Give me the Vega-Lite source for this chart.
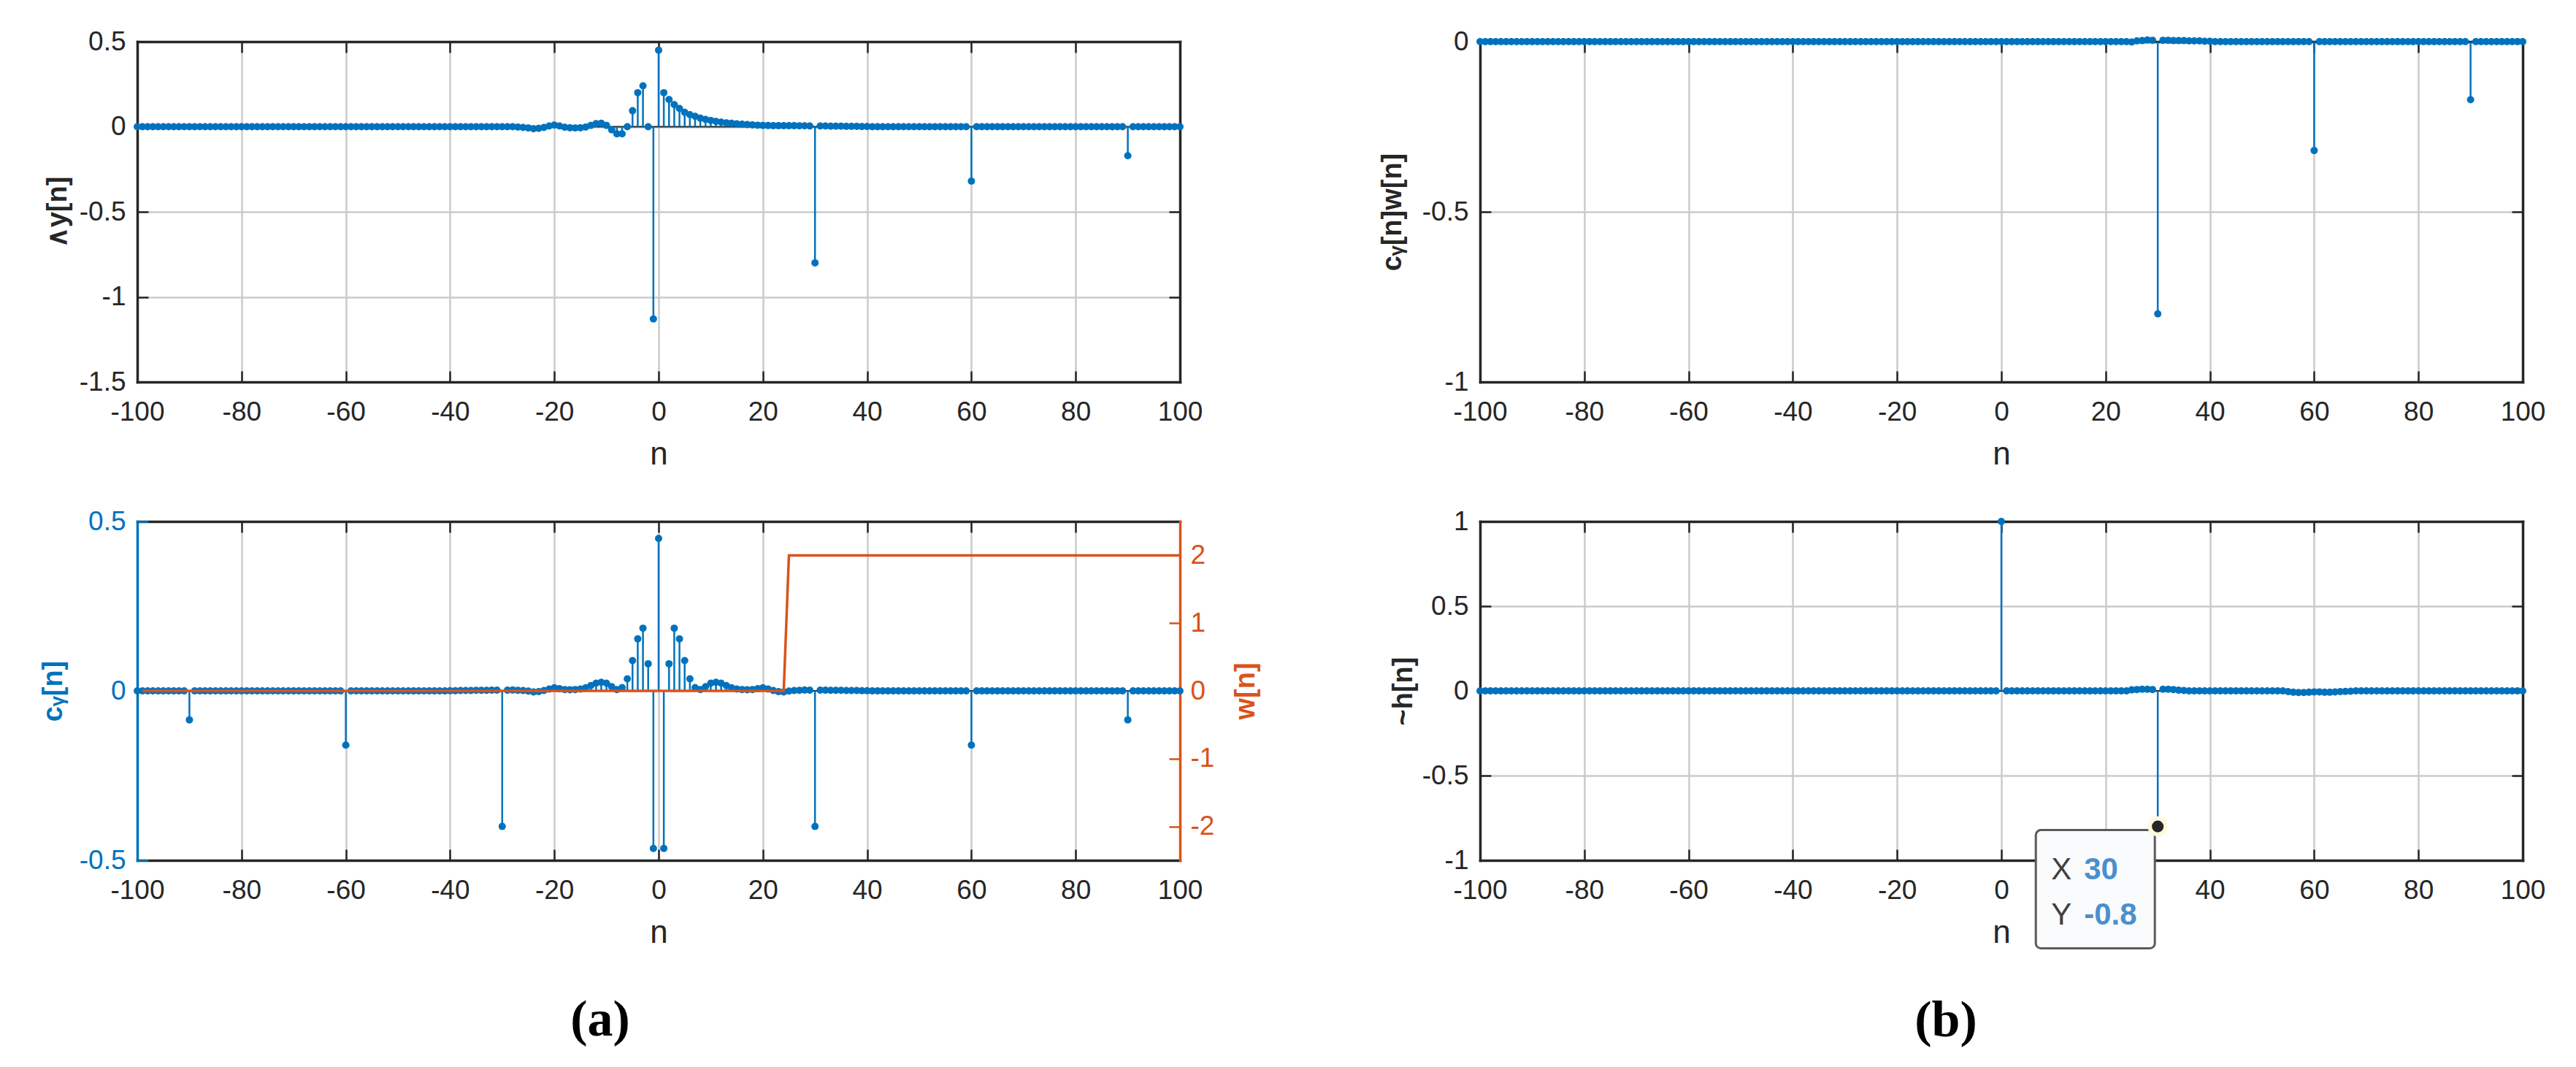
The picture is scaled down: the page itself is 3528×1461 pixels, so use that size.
{
"$schema":"https://vega.github.io/schema/vega-lite/v6.json",
"background":"white",
"padding":{"left":54,"top":38,"right":10,"bottom":10},
"config":{
 "font":"Liberation Sans",
 "view":{"stroke":null},
 "axis":{"domainColor":"#262626","domainWidth":3.5,"domainCap":"square","tickColor":"#262626","tickWidth":2.5,"tickSize":-15,"gridColor":"#cbcbcb","gridWidth":2.5,"gridOpacity":1,"labelFont":"Liberation Sans","labelFontSize":37,"labelColor":"#262626","labelFlush":false,"labelOverlap":false,"labelBound":false,"titleFont":"Liberation Sans","titleColor":"#262626","titleFontSize":38,"titleFontWeight":"bold"},
 "axisX":{"labelPadding":38,"titleFontWeight":"normal","titleFontSize":44,"titlePadding":18},
 "axisY":{"labelPadding":31}
},
"datasets":{
 "w":[{"n":-99,"w":0},{"n":24,"w":0},{"n":25,"w":2},{"n":100,"w":2}],
 "tip":[{"n":30,"v":-0.8}],
 "d":[
{"n":-100,"a":0,"c":0,"cw":0,"h":0},{"n":-99,"a":0,"c":0,"cw":0,"h":0},{"n":-98,"a":0,"c":0,"cw":0,"h":0},{"n":-97,"a":0,"c":0,"cw":0,"h":0},{"n":-96,"a":0,"c":0,"cw":0,"h":0},{"n":-95,"a":0,"c":0,"cw":0,"h":0},{"n":-94,"a":0,"c":0,"cw":0,"h":0},{"n":-93,"a":0,"c":0,"cw":0,"h":0},{"n":-92,"a":0,"c":0,"cw":0,"h":0},{"n":-91,"a":0,"c":0,"cw":0,"h":0},
{"n":-90,"a":0,"c":-0.0854,"cw":0,"h":0},
{"n":-89,"a":0,"c":0,"cw":0,"h":0},{"n":-88,"a":0,"c":0,"cw":0,"h":0},{"n":-87,"a":0,"c":0,"cw":0,"h":0},{"n":-86,"a":0,"c":0,"cw":0,"h":0},{"n":-85,"a":0,"c":0,"cw":0,"h":0},{"n":-84,"a":0,"c":0,"cw":0,"h":0},{"n":-83,"a":0,"c":0,"cw":0,"h":0},{"n":-82,"a":0,"c":0,"cw":0,"h":0},{"n":-81,"a":0,"c":0,"cw":0,"h":0},{"n":-80,"a":0,"c":0,"cw":0,"h":0},
{"n":-79,"a":0,"c":0,"cw":0,"h":0},{"n":-78,"a":0,"c":0,"cw":0,"h":0},{"n":-77,"a":0,"c":0,"cw":0,"h":0},{"n":-76,"a":0,"c":0,"cw":0,"h":0},{"n":-75,"a":0,"c":0,"cw":0,"h":0},{"n":-74,"a":0,"c":0,"cw":0,"h":0},{"n":-73,"a":0,"c":0,"cw":0,"h":0},{"n":-72,"a":0,"c":0,"cw":0,"h":0},{"n":-71,"a":0,"c":0,"cw":0,"h":0},{"n":-70,"a":0,"c":0,"cw":0,"h":0},
{"n":-69,"a":0,"c":0,"cw":0,"h":0},{"n":-68,"a":0,"c":0,"cw":0,"h":0},{"n":-67,"a":0,"c":0,"cw":0,"h":0},{"n":-66,"a":0,"c":0,"cw":0,"h":0},{"n":-65,"a":0,"c":0,"cw":0,"h":0},{"n":-64,"a":0,"c":0,"cw":0,"h":0},{"n":-63,"a":0,"c":0,"cw":0,"h":0},{"n":-62,"a":0,"c":0,"cw":0,"h":0},{"n":-61,"a":0,"c":0,"cw":0,"h":0},
{"n":-60,"a":0,"c":-0.16,"cw":0,"h":0},
{"n":-59,"a":0,"c":0,"cw":0,"h":0},{"n":-58,"a":0,"c":0,"cw":0,"h":0},{"n":-57,"a":0,"c":0,"cw":0,"h":0},{"n":-56,"a":0,"c":0,"cw":0,"h":0},{"n":-55,"a":0,"c":0,"cw":0,"h":0},{"n":-54,"a":0,"c":0,"cw":0,"h":0},{"n":-53,"a":0,"c":0,"cw":0,"h":0},{"n":-52,"a":0,"c":0,"cw":0,"h":0},{"n":-51,"a":0,"c":0,"cw":0,"h":0},{"n":-50,"a":0,"c":0,"cw":0,"h":0},
{"n":-49,"a":0,"c":0,"cw":0,"h":0},{"n":-48,"a":0,"c":0,"cw":0,"h":0},{"n":-47,"a":0,"c":0,"cw":0,"h":0},{"n":-46,"a":0,"c":0,"cw":0,"h":0},{"n":-45,"a":0,"c":0,"cw":0,"h":0},{"n":-44,"a":0,"c":0,"cw":0,"h":0},{"n":-43,"a":0,"c":0,"cw":0,"h":0},{"n":-42,"a":0,"c":0,"cw":0,"h":0},{"n":-41,"a":0,"c":0,"cw":0,"h":0},
{"n":-40,"a":0,"c":0.0005,"cw":0,"h":0},{"n":-39,"a":0,"c":0.0005,"cw":0,"h":0},{"n":-38,"a":0,"c":0.001,"cw":0,"h":0},{"n":-37,"a":0,"c":0.001,"cw":0,"h":0},{"n":-36,"a":0,"c":0.001,"cw":0,"h":0},{"n":-35,"a":0,"c":0.0015,"cw":0,"h":0},{"n":-34,"a":0,"c":0.0015,"cw":0,"h":0},{"n":-33,"a":0,"c":0.0015,"cw":0,"h":0},{"n":-32,"a":0,"c":0.002,"cw":0,"h":0},{"n":-31,"a":0,"c":0.002,"cw":0,"h":0},
{"n":-30,"a":0,"c":-0.4,"cw":0,"h":0},
{"n":-29,"a":0,"c":0.002,"cw":0,"h":0},{"n":-28,"a":0,"c":0.0025,"cw":0,"h":0},{"n":-27,"a":-0.002,"c":0.0015,"cw":0,"h":0},{"n":-26,"a":-0.004,"c":0.001,"cw":0,"h":0},{"n":-25,"a":-0.007,"c":-0.0005,"cw":0,"h":0},{"n":-24,"a":-0.012,"c":-0.003,"cw":0,"h":0},{"n":-23,"a":-0.01,"c":-0.002,"cw":0,"h":0},{"n":-22,"a":-0.004,"c":0.001,"cw":0,"h":0},{"n":-21,"a":0.004,"c":0.0055,"cw":0,"h":0},{"n":-20,"a":0.01,"c":0.009,"cw":0,"h":0},
{"n":-19,"a":0.004,"c":0.0065,"cw":0,"h":0},{"n":-18,"a":-0.003,"c":0.004,"cw":0,"h":0},{"n":-17,"a":-0.006,"c":0.0035,"cw":0,"h":0},{"n":-16,"a":-0.007,"c":0.004,"cw":0,"h":0},{"n":-15,"a":-0.006,"c":0.0055,"cw":0,"h":0},{"n":-14,"a":-0.002,"c":0.009,"cw":0,"h":0},{"n":-13,"a":0.008,"c":0.0155,"cw":0,"h":0},{"n":-12,"a":0.018,"c":0.0225,"cw":0,"h":0},{"n":-11,"a":0.02,"c":0.0255,"cw":0,"h":0},{"n":-10,"a":0.008,"c":0.0225,"cw":0,"h":0},
{"n":-9,"a":-0.018,"c":0.0125,"cw":0,"h":0},{"n":-8,"a":-0.042,"c":0.004,"cw":0,"h":0},{"n":-7,"a":-0.042,"c":0.0095,"cw":0,"h":0},{"n":-6,"a":0,"c":0.0355,"cw":0,"h":0},{"n":-5,"a":0.094,"c":0.0895,"cw":0,"h":0},{"n":-4,"a":0.2,"c":0.1535,"cw":0,"h":0},{"n":-3,"a":0.24,"c":0.185,"cw":0,"h":0},{"n":-2,"a":0,"c":0.08,"cw":0,"h":0},{"n":-1,"a":-1.13,"c":-0.465,"cw":0,"h":0},
{"n":0,"a":0.45,"c":0.45,"cw":0,"h":1},
{"n":1,"a":0.2,"c":-0.465,"cw":0,"h":0},{"n":2,"a":0.16,"c":0.08,"cw":0,"h":0},{"n":3,"a":0.13,"c":0.185,"cw":0,"h":0},{"n":4,"a":0.107,"c":0.1535,"cw":0,"h":0},{"n":5,"a":0.085,"c":0.0895,"cw":0,"h":0},{"n":6,"a":0.071,"c":0.0355,"cw":0,"h":0},{"n":7,"a":0.061,"c":0.0095,"cw":0,"h":0},{"n":8,"a":0.05,"c":0.004,"cw":0,"h":0},{"n":9,"a":0.043,"c":0.0125,"cw":0,"h":0},{"n":10,"a":0.037,"c":0.0225,"cw":0,"h":0},
{"n":11,"a":0.031,"c":0.0255,"cw":0,"h":0},{"n":12,"a":0.027,"c":0.0225,"cw":0,"h":0},{"n":13,"a":0.023,"c":0.0155,"cw":0,"h":0},{"n":14,"a":0.02,"c":0.009,"cw":0,"h":0},{"n":15,"a":0.017,"c":0.0055,"cw":0,"h":0},{"n":16,"a":0.015,"c":0.004,"cw":0,"h":0},{"n":17,"a":0.013,"c":0.0035,"cw":0,"h":0},{"n":18,"a":0.011,"c":0.004,"cw":0,"h":0},{"n":19,"a":0.009,"c":0.0065,"cw":0,"h":0},{"n":20,"a":0.008,"c":0.009,"cw":0,"h":0},
{"n":21,"a":0.007,"c":0.0055,"cw":0,"h":0},{"n":22,"a":0.006,"c":0.001,"cw":0,"h":0},{"n":23,"a":0.006,"c":-0.002,"cw":0,"h":0},{"n":24,"a":0.006,"c":-0.003,"cw":0,"h":0},{"n":25,"a":0.006,"c":-0.0005,"cw":-0.001,"h":0.006},{"n":26,"a":0.006,"c":0.001,"cw":0.002,"h":0.008},{"n":27,"a":0.005,"c":0.0015,"cw":0.003,"h":0.01},{"n":28,"a":0.005,"c":0.0025,"cw":0.005,"h":0.01},{"n":29,"a":0.004,"c":0.002,"cw":0.004,"h":0.008},
{"n":30,"a":-0.8,"c":-0.4,"cw":-0.8,"h":-0.8},
{"n":31,"a":0.004,"c":0.002,"cw":0.004,"h":0.01},{"n":32,"a":0.004,"c":0.002,"cw":0.004,"h":0.01},{"n":33,"a":0.003,"c":0.0015,"cw":0.003,"h":0.008},{"n":34,"a":0.003,"c":0.0015,"cw":0.003,"h":0.004},{"n":35,"a":0.003,"c":0.0015,"cw":0.003,"h":0.002},{"n":36,"a":0.002,"c":0.001,"cw":0.002,"h":0},{"n":37,"a":0.002,"c":0.001,"cw":0.002,"h":0},{"n":38,"a":0.002,"c":0.001,"cw":0.002,"h":0},{"n":39,"a":0.001,"c":0.0005,"cw":0.001,"h":0},{"n":40,"a":0.001,"c":0.0005,"cw":0.001,"h":0},
{"n":41,"a":0,"c":0,"cw":0,"h":0},{"n":42,"a":0,"c":0,"cw":0,"h":0},{"n":43,"a":0,"c":0,"cw":0,"h":0},{"n":44,"a":0,"c":0,"cw":0,"h":0},{"n":45,"a":0,"c":0,"cw":0,"h":0},{"n":46,"a":0,"c":0,"cw":0,"h":0},{"n":47,"a":0,"c":0,"cw":0,"h":0},{"n":48,"a":0,"c":0,"cw":0,"h":0},{"n":49,"a":0,"c":0,"cw":0,"h":0},{"n":50,"a":0,"c":0,"cw":0,"h":0},
{"n":51,"a":0,"c":0,"cw":0,"h":0},{"n":52,"a":0,"c":0,"cw":0,"h":0},{"n":53,"a":0,"c":0,"cw":0,"h":0},{"n":54,"a":0,"c":0,"cw":0,"h":0},{"n":55,"a":0,"c":0,"cw":0,"h":-0.004},{"n":56,"a":0,"c":0,"cw":0,"h":-0.008},{"n":57,"a":0,"c":0,"cw":0,"h":-0.01},{"n":58,"a":0,"c":0,"cw":0,"h":-0.01},{"n":59,"a":0,"c":0,"cw":0,"h":-0.008},
{"n":60,"a":-0.32,"c":-0.16,"cw":-0.32,"h":-0.006},
{"n":61,"a":0,"c":0,"cw":0,"h":-0.006},{"n":62,"a":0,"c":0,"cw":0,"h":-0.008},{"n":63,"a":0,"c":0,"cw":0,"h":-0.008},{"n":64,"a":0,"c":0,"cw":0,"h":-0.006},{"n":65,"a":0,"c":0,"cw":0,"h":-0.004},{"n":66,"a":0,"c":0,"cw":0,"h":-0.003},{"n":67,"a":0,"c":0,"cw":0,"h":-0.002},{"n":68,"a":0,"c":0,"cw":0,"h":0},{"n":69,"a":0,"c":0,"cw":0,"h":0},{"n":70,"a":0,"c":0,"cw":0,"h":0},
{"n":71,"a":0,"c":0,"cw":0,"h":0},{"n":72,"a":0,"c":0,"cw":0,"h":0},{"n":73,"a":0,"c":0,"cw":0,"h":0},{"n":74,"a":0,"c":0,"cw":0,"h":0},{"n":75,"a":0,"c":0,"cw":0,"h":0},{"n":76,"a":0,"c":0,"cw":0,"h":0},{"n":77,"a":0,"c":0,"cw":0,"h":0},{"n":78,"a":0,"c":0,"cw":0,"h":0},{"n":79,"a":0,"c":0,"cw":0,"h":0},{"n":80,"a":0,"c":0,"cw":0,"h":0},
{"n":81,"a":0,"c":0,"cw":0,"h":0},{"n":82,"a":0,"c":0,"cw":0,"h":0},{"n":83,"a":0,"c":0,"cw":0,"h":0},{"n":84,"a":0,"c":0,"cw":0,"h":0},{"n":85,"a":0,"c":0,"cw":0,"h":0},{"n":86,"a":0,"c":0,"cw":0,"h":0},{"n":87,"a":0,"c":0,"cw":0,"h":0},{"n":88,"a":0,"c":0,"cw":0,"h":0},{"n":89,"a":0,"c":0,"cw":0,"h":0},
{"n":90,"a":-0.1707,"c":-0.0854,"cw":-0.1707,"h":0},
{"n":91,"a":0,"c":0,"cw":0,"h":0},{"n":92,"a":0,"c":0,"cw":0,"h":0},{"n":93,"a":0,"c":0,"cw":0,"h":0},{"n":94,"a":0,"c":0,"cw":0,"h":0},{"n":95,"a":0,"c":0,"cw":0,"h":0},{"n":96,"a":0,"c":0,"cw":0,"h":0},{"n":97,"a":0,"c":0,"cw":0,"h":0},{"n":98,"a":0,"c":0,"cw":0,"h":0},{"n":99,"a":0,"c":0,"cw":0,"h":0},{"n":100,"a":0,"c":0,"cw":0,"h":0}
 ]
},
"concat":[
 {
  "width":1428,"height":466,
  "data":{"name":"d"},
  "layer":[
   {"data":{"values":[{}]},"mark":{"type":"rule","color":"#262626","strokeWidth":2},"encoding":{"y":{"datum":0,"type":"quantitative","scale":{"domain":[-1.5,0.5],"nice":false,"zero":false},"axis":null}}},
   {"mark":{"type":"rule","color":"#0072BD","strokeWidth":2.5},"encoding":{
     "x":{"field":"n","type":"quantitative","scale":{"domain":[-100,100],"nice":false,"zero":false},"axis":{"orient":"bottom","values":[-100,-80,-60,-40,-20,0,20,40,60,80,100],"labelExpr":"datum.value + ''","title":"n","grid":true}},
     "y":{"field":"a","type":"quantitative","scale":{"domain":[-1.5,0.5],"nice":false,"zero":false},"axis":{"orient":"left","values":[-1.5,-1,-0.5,0,0.5],"labelExpr":"datum.value + ''","title":"∧y[n]","grid":true,"titlePadding":10}},
     "y2":{"datum":0}}},
   {"mark":{"type":"point","filled":true,"color":"#0072BD","size":100,"opacity":1},"encoding":{
     "x":{"field":"n","type":"quantitative","scale":{"domain":[-100,100],"nice":false,"zero":false},"axis":{"orient":"top","values":[-100,-80,-60,-40,-20,0,20,40,60,80,100],"labels":false,"title":null,"grid":false}},
     "y":{"field":"a","type":"quantitative","scale":{"domain":[-1.5,0.5],"nice":false,"zero":false},"axis":{"orient":"right","values":[-1.5,-1,-0.5,0,0.5],"labels":false,"title":null,"grid":false}}}}
  ]
 },
 {
  "width":1428,"height":466,
  "data":{"name":"d"},
  "layer":[
   {"data":{"values":[{}]},"mark":{"type":"rule","color":"#262626","strokeWidth":2},"encoding":{"y":{"datum":0,"type":"quantitative","scale":{"domain":[-1,0],"nice":false,"zero":false},"axis":null}}},
   {"mark":{"type":"rule","color":"#0072BD","strokeWidth":2.5},"encoding":{
     "x":{"field":"n","type":"quantitative","scale":{"domain":[-100,100],"nice":false,"zero":false},"axis":{"orient":"bottom","values":[-100,-80,-60,-40,-20,0,20,40,60,80,100],"labelExpr":"datum.value + ''","title":"n","grid":true}},
     "y":{"field":"cw","type":"quantitative","scale":{"domain":[-1,0],"nice":false,"zero":false},"axis":{"orient":"left","values":[-1,-0.5,0],"labelExpr":"datum.value + ''","title":"cᵧ[n]w[n]","grid":true,"titlePadding":21}},
     "y2":{"datum":0}}},
   {"mark":{"type":"point","filled":true,"color":"#0072BD","size":100,"opacity":1},"encoding":{
     "x":{"field":"n","type":"quantitative","scale":{"domain":[-100,100],"nice":false,"zero":false},"axis":{"orient":"top","values":[-100,-80,-60,-40,-20,0,20,40,60,80,100],"labels":false,"title":null,"grid":false}},
     "y":{"field":"cw","type":"quantitative","scale":{"domain":[-1,0],"nice":false,"zero":false},"axis":{"orient":"right","values":[-1,-0.5,0],"labels":false,"title":null,"grid":false}}}}
  ]
 },
 {
  "width":1428,"height":464,
  "data":{"name":"d"},
  "title":{"text":"(a)","orient":"bottom","anchor":"middle","frame":"group","dx":-80,"offset":64,"font":"Liberation Serif","fontSize":70,"fontWeight":"bold","color":"#000000"},
  "resolve":{"scale":{"y":"independent"}},
  "layer":[
   {"data":{"values":[{}]},"mark":{"type":"rule","color":"#262626","strokeWidth":2},"encoding":{"y":{"datum":0,"type":"quantitative","scale":{"domain":[-0.5,0.5],"nice":false,"zero":false},"axis":null}}},
   {"mark":{"type":"rule","color":"#0072BD","strokeWidth":2.5},"encoding":{
     "x":{"field":"n","type":"quantitative","scale":{"domain":[-100,100],"nice":false,"zero":false},"axis":{"orient":"bottom","values":[-100,-80,-60,-40,-20,0,20,40,60,80,100],"labelExpr":"datum.value + ''","title":"n","grid":true}},
     "y":{"field":"c","type":"quantitative","scale":{"domain":[-0.5,0.5],"nice":false,"zero":false},"axis":{"orient":"left","values":[-0.5,0,0.5],"labelExpr":"datum.value + ''","title":"cᵧ[n]","grid":false,"titlePadding":16,"domainColor":"#0072BD","tickColor":"#0072BD","labelColor":"#0072BD","titleColor":"#0072BD"}},
     "y2":{"datum":0}}},
   {"mark":{"type":"point","filled":true,"color":"#0072BD","size":100,"opacity":1},"encoding":{
     "x":{"field":"n","type":"quantitative","scale":{"domain":[-100,100],"nice":false,"zero":false},"axis":{"orient":"top","values":[-100,-80,-60,-40,-20,0,20,40,60,80,100],"labels":false,"title":null,"grid":false}},
     "y":{"field":"c","type":"quantitative","scale":{"domain":[-0.5,0.5],"nice":false,"zero":false},"axis":null}}},
   {"data":{"name":"w"},"mark":{"type":"line","color":"#D95319","strokeWidth":3.5},"encoding":{
     "x":{"field":"n","type":"quantitative","scale":{"domain":[-100,100],"nice":false,"zero":false},"axis":null},
     "y":{"field":"w","type":"quantitative","scale":{"domain":[-2.5,2.5],"nice":false,"zero":false},"axis":{"orient":"right","values":[-2,-1,0,1,2],"labelExpr":"datum.value + ''","labelPadding":29,"title":"w[n]","titleAngle":270,"titleBaseline":"top","titlePadding":25,"grid":false,"domainColor":"#D95319","tickColor":"#D95319","labelColor":"#D95319","titleColor":"#D95319"}}}}
  ]
 },
 {
  "width":1428,"height":464,
  "data":{"name":"d"},
  "title":{"text":"(b)","orient":"bottom","anchor":"middle","frame":"group","dx":-76,"offset":64,"font":"Liberation Serif","fontSize":70,"fontWeight":"bold","color":"#000000"},
  "layer":[
   {"data":{"values":[{}]},"mark":{"type":"rule","color":"#262626","strokeWidth":2},"encoding":{"y":{"datum":0,"type":"quantitative","scale":{"domain":[-1,1],"nice":false,"zero":false},"axis":null}}},
   {"mark":{"type":"rule","color":"#0072BD","strokeWidth":2.5},"encoding":{
     "x":{"field":"n","type":"quantitative","scale":{"domain":[-100,100],"nice":false,"zero":false},"axis":{"orient":"bottom","values":[-100,-80,-60,-40,-20,0,20,40,60,80,100],"labelExpr":"datum.value == 20 ? '' : datum.value + ''","title":"n","grid":true}},
     "y":{"field":"h","type":"quantitative","scale":{"domain":[-1,1],"nice":false,"zero":false},"axis":{"orient":"left","values":[-1,-0.5,0,0.5,1],"labelExpr":"datum.value + ''","title":"~h[n]","grid":true,"titlePadding":6}},
     "y2":{"datum":0}}},
   {"mark":{"type":"point","filled":true,"color":"#0072BD","size":100,"opacity":1},"encoding":{
     "x":{"field":"n","type":"quantitative","scale":{"domain":[-100,100],"nice":false,"zero":false},"axis":{"orient":"top","values":[-100,-80,-60,-40,-20,0,20,40,60,80,100],"labels":false,"title":null,"grid":false}},
     "y":{"field":"h","type":"quantitative","scale":{"domain":[-1,1],"nice":false,"zero":false},"axis":{"orient":"right","values":[-1,-0.5,0,0.5,1],"labels":false,"title":null,"grid":false}}}},
   {"data":{"name":"tip"},"mark":{"type":"rect","fill":"#fafbfd","stroke":"#5a5a5a","strokeWidth":3,"cornerRadius":7,"xOffset":-167,"x2Offset":-4,"yOffset":5,"y2Offset":167},"encoding":{
     "x":{"field":"n","type":"quantitative","scale":{"domain":[-100,100],"nice":false,"zero":false},"axis":null},"x2":{"field":"n"},
     "y":{"field":"v","type":"quantitative","scale":{"domain":[-1,1],"nice":false,"zero":false},"axis":null},"y2":{"field":"v"}}},
   {"data":{"name":"tip"},"mark":{"type":"point","filled":true,"shape":"circle","color":"#fdf9dc","size":760,"opacity":1},"encoding":{
     "x":{"field":"n","type":"quantitative","scale":{"domain":[-100,100],"nice":false,"zero":false},"axis":null},
     "y":{"field":"v","type":"quantitative","scale":{"domain":[-1,1],"nice":false,"zero":false},"axis":null}}},
   {"data":{"name":"tip"},"mark":{"type":"point","filled":true,"shape":"circle","color":"#262626","size":260,"opacity":1},"encoding":{
     "x":{"field":"n","type":"quantitative","scale":{"domain":[-100,100],"nice":false,"zero":false},"axis":null},
     "y":{"field":"v","type":"quantitative","scale":{"domain":[-1,1],"nice":false,"zero":false},"axis":null}}},
   {"data":{"name":"tip"},"mark":{"type":"text","text":"X","dx":-146,"dy":72,"align":"left","baseline":"alphabetic","font":"Liberation Sans","fontSize":42,"color":"#404040"},"encoding":{
     "x":{"field":"n","type":"quantitative","scale":{"domain":[-100,100],"nice":false,"zero":false},"axis":null},
     "y":{"field":"v","type":"quantitative","scale":{"domain":[-1,1],"nice":false,"zero":false},"axis":null}}},
   {"data":{"name":"tip"},"mark":{"type":"text","text":"Y","dx":-146,"dy":134,"align":"left","baseline":"alphabetic","font":"Liberation Sans","fontSize":42,"color":"#404040"},"encoding":{
     "x":{"field":"n","type":"quantitative","scale":{"domain":[-100,100],"nice":false,"zero":false},"axis":null},
     "y":{"field":"v","type":"quantitative","scale":{"domain":[-1,1],"nice":false,"zero":false},"axis":null}}},
   {"data":{"name":"tip"},"mark":{"type":"text","dx":-101,"dy":72,"align":"left","baseline":"alphabetic","font":"Liberation Sans","fontSize":42,"fontWeight":"bold","color":"#4a8fce"},"encoding":{
     "x":{"field":"n","type":"quantitative","scale":{"domain":[-100,100],"nice":false,"zero":false},"axis":null},
     "y":{"field":"v","type":"quantitative","scale":{"domain":[-1,1],"nice":false,"zero":false},"axis":null},
     "text":{"field":"n","type":"nominal"}}},
   {"data":{"name":"tip"},"mark":{"type":"text","dx":-101,"dy":134,"align":"left","baseline":"alphabetic","font":"Liberation Sans","fontSize":42,"fontWeight":"bold","color":"#4a8fce"},"encoding":{
     "x":{"field":"n","type":"quantitative","scale":{"domain":[-100,100],"nice":false,"zero":false},"axis":null},
     "y":{"field":"v","type":"quantitative","scale":{"domain":[-1,1],"nice":false,"zero":false},"axis":null},
     "text":{"field":"v","type":"nominal"}}}
  ]
 }
],
"columns":2,
"spacing":{"row":191,"column":411},
"bounds":"flush"
}
